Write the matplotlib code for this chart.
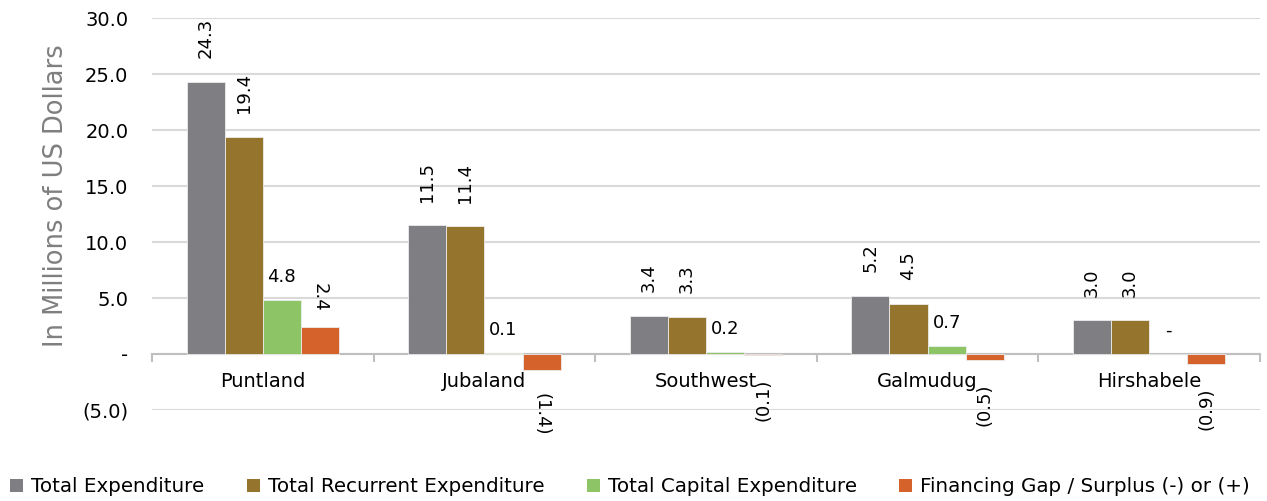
import numpy as np
import matplotlib.pyplot as plt
from matplotlib.patches import Patch
from matplotlib.ticker import FuncFormatter

plt.rcParams['font.family'] = ['DejaVu Sans']

# data
regions = ["Puntland", "Jubaland", "Southwest", "Galmudug", "Hirshabele"]
total_exp = [24.3, 11.5, 3.4, 5.2, 3.0]
recurrent_exp = [19.4, 11.4, 3.3, 4.5, 3.0]
capital_exp = [4.8, 0.1, 0.2, 0.7, 0.0]
financing_gap = [2.4, -1.4, -0.1, -0.5, -0.9]

series_names = ["Total Expenditure", "Total Recurrent Expenditure",
                "Total Capital Expenditure", "Financing Gap / Surplus (-) or (+)"]
series = [total_exp, recurrent_exp, capital_exp, financing_gap]
colors = ["#7f7f83", "#95742e", "#8dc466", "#d5622a"]


def fmt(v):
    if v > 0:
        return f"{v:.1f}"
    if v < 0:
        return f"({-v:.1f})"
    return "-"


fig = plt.figure(figsize=(12.67, 5.01), dpi=100)
ax = fig.add_axes([152 / 1267, 1 - 410 / 501, (1260 - 152) / 1267, (410 - 18) / 501])

x = np.arange(len(regions))
w = 0.172
for i, (vals, c) in enumerate(zip(series, colors)):
    pos = x + (i - 1.5) * w
    bars = ax.bar(pos, vals, w, color=c, edgecolor="#ececec", linewidth=0.6, zorder=3)
    for b, v in zip(bars, vals):
        cx = b.get_x() + b.get_width() / 2
        if v < 0:
            rot = 270 if v <= -1 else 90
            ax.annotate(fmt(v), (cx, v), xytext=(0, -17), textcoords="offset points",
                        ha="center", va="top", rotation=rot, fontsize=13)
        elif i == 3:
            ax.annotate(fmt(v), (cx, v), xytext=(0, 11), textcoords="offset points",
                        ha="center", va="bottom", rotation=270, fontsize=13)
        elif i == 2:
            ax.annotate(fmt(v), (cx, v), xytext=(0, 10), textcoords="offset points",
                        ha="center", va="bottom", fontsize=13)
        else:
            ax.annotate(fmt(v), (cx, v), xytext=(0, 17), textcoords="offset points",
                        ha="center", va="bottom", rotation=90, fontsize=13)

ax.set_xlim(-0.5, len(regions) - 0.5)
ax.set_ylim(-5, 30)
ax.set_yticks(np.arange(-5, 31, 5))
ax.yaxis.set_major_formatter(FuncFormatter(lambda v, p: fmt(v)))
ax.tick_params(axis="y", length=0, labelsize=14, pad=17)
ax.grid(axis="y", color="#d9d9d9", linewidth=1.5, zorder=0)

# category axis sits on zero
for s in ["top", "right", "left"]:
    ax.spines[s].set_visible(False)
ax.spines["bottom"].set_position(("data", 0))
ax.spines["bottom"].set_color("#bfbfbf")
ax.spines["bottom"].set_linewidth(1.5)
ax.spines["bottom"].set_zorder(2)
ax.set_xticks(np.arange(-0.5, len(regions), 1.0))
ax.set_xticklabels([])
ax.tick_params(axis="x", which="major", length=6, width=1.5, color="#bfbfbf")
ax.set_xticks(x, minor=True)
ax.set_xticklabels(regions, minor=True)
ax.tick_params(axis="x", which="minor", length=0, labelsize=14, pad=13)

ax.set_ylabel("In Millions of US Dollars", fontsize=18.5, color="#7f7f7f")
ax.yaxis.set_label_coords(-0.0745, 0.546)

handles = [Patch(facecolor=c) for c in colors]
fig.legend(handles, series_names, loc="center left", bbox_to_anchor=(10 / 1267, 1 - 487 / 501),
           ncol=4, frameon=False, fontsize=14.3, handlelength=0.65, handleheight=0.65,
           handletextpad=0.4, columnspacing=2.15, borderpad=0, borderaxespad=0)

fig.savefig("out.png", dpi=100)
